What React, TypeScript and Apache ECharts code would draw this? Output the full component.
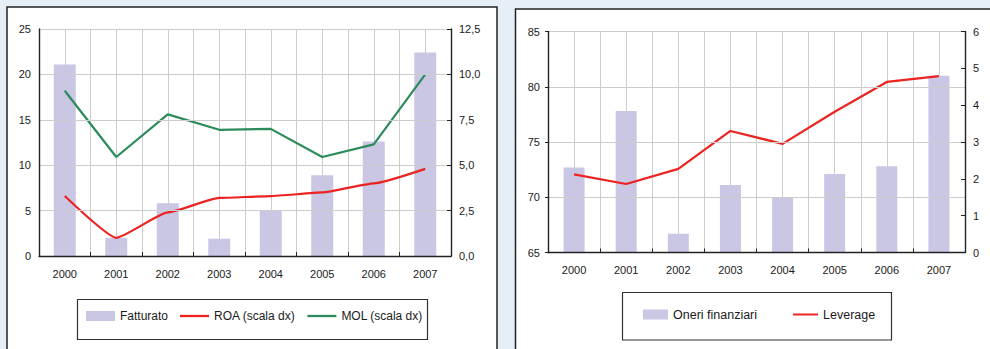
import React, { useEffect, useRef } from "react";
import * as echarts from "echarts";

// Categories
const years = ["2000", "2001", "2002", "2003", "2004", "2005", "2006", "2007"];
// Half-width slots used only to place gridlines at centres and boundaries
const halfSlots = years.flatMap((y) => [y + "-a", y + "-b"]);

// Left panel
const fatturato = [21.1, 2.0, 5.8, 1.9, 5.0, 8.9, 12.6, 22.4];
const roa = [3.3, 1.0, 2.4, 3.2, 3.3, 3.5, 4.0, 4.8];
const mol = [9.1, 5.45, 7.8, 6.95, 7.0, 5.45, 6.15, 10.0];

// Right panel
const oneri = [72.7, 77.8, 66.7, 71.1, 70.0, 72.1, 72.8, 81.0];
const leverage = [2.12, 1.86, 2.27, 3.3, 2.95, 3.82, 4.63, 4.79];

const FONT = "'Liberation Sans', Arial, sans-serif";
const TXT = "#1a1a1a";
const AXIS = "#222";
const GRID = "#cdcdcd";
const BAR = "#c9c7e3";
const RED = "#ec2320";
const GREEN = "#2b8b5b";
const PAGE = "#e7eff6";

// thin horizontal stroke used as the legend key for line series
const LINE_ICON = "path://M0 0H29V2.3H0Z";

const comma1 = (v: number) => v.toFixed(1).replace(".", ",");

export default function App() {
  const ref = useRef<HTMLDivElement>(null);

  useEffect(() => {
    if (!ref.current) return;
    const chart = echarts.init(ref.current, undefined, { renderer: "svg" });

    const catAxis = (gridIndex: number) => ({
      type: "category",
      gridIndex,
      data: years,
      boundaryGap: true,
      axisLine: { show: true, lineStyle: { color: AXIS, width: 1.4 } },
      axisTick: { show: true, inside: true, length: 4, lineStyle: { color: AXIS } },
      axisLabel: { color: TXT, fontFamily: FONT, fontSize: 11, margin: 12 },
      splitLine: { show: false },
      z: 5,
    });

    const halfAxis = (gridIndex: number) => ({
      type: "category",
      gridIndex,
      data: halfSlots,
      boundaryGap: true,
      axisLine: { show: false },
      axisTick: { show: false },
      axisLabel: { show: false },
      splitLine: { show: true, interval: 0, lineStyle: { color: GRID, width: 1 } },
    });

    const leftVal = (gridIndex: number, min: number, max: number, interval: number, tick: boolean) => ({
      type: "value",
      gridIndex,
      position: "left",
      min,
      max,
      interval,
      startValue: min,
      axisLine: { show: true, lineStyle: { color: AXIS, width: 1.4 } },
      axisTick: { show: tick, length: 3, lineStyle: { color: AXIS } },
      axisLabel: { color: TXT, fontFamily: FONT, fontSize: 11, margin: 8 },
      splitLine: { show: true, lineStyle: { color: GRID, width: 1 } },
      z: 5,
    });

    const rightVal = (gridIndex: number, min: number, max: number, interval: number, fmt?: (v: number) => string) => ({
      type: "value",
      gridIndex,
      position: "right",
      min,
      max,
      interval,
      axisLine: { show: true, lineStyle: { color: AXIS, width: 1.4 } },
      axisTick: { show: true, inside: true, length: 4, lineStyle: { color: AXIS } },
      axisLabel: { color: TXT, fontFamily: FONT, fontSize: 11, margin: 8, formatter: fmt },
      splitLine: { show: false },
      z: 5,
    });

    chart.setOption({
      animation: false,
      backgroundColor: PAGE,
      textStyle: { fontFamily: FONT },
      graphic: [
        {
          type: "rect",
          shape: { x: 7, y: 7, width: 490, height: 360 },
          style: { fill: "#fff", stroke: "#222", lineWidth: 1.5 },
          z: -10,
        },
        {
          type: "rect",
          shape: { x: 515.5, y: 9, width: 490, height: 360 },
          style: { fill: "#fff", stroke: "#222", lineWidth: 1.5 },
          z: -10,
        },
        {
          type: "rect",
          shape: { x: 77.5, y: 299.5, width: 350, height: 40 },
          style: { fill: "none", stroke: "#333", lineWidth: 1.2 },
        },
        {
          type: "rect",
          shape: { x: 622.5, y: 292.5, width: 269, height: 47.5 },
          style: { fill: "none", stroke: "#333", lineWidth: 1.2 },
        },
      ],
      grid: [
        { left: 39, top: 29, width: 412, height: 227 },
        { left: 548, top: 31.5, width: 417, height: 221 },
      ],
      xAxis: [catAxis(0), halfAxis(0), catAxis(1), halfAxis(1)],
      yAxis: [
        leftVal(0, 0, 25, 5, false),
        rightVal(0, 0, 12.5, 2.5, comma1),
        leftVal(1, 65, 85, 5, true),
        rightVal(1, 0, 6, 1),
      ],
      legend: [
        {
          data: [
            { name: "Fatturato", icon: "rect" },
            { name: "ROA (scala dx)", icon: LINE_ICON },
            { name: "MOL (scala dx)", icon: LINE_ICON },
          ],
          left: 86,
          top: 310,
          padding: 0,
          itemWidth: 29,
          itemHeight: 10,
          itemGap: 12,
          textStyle: { color: TXT, fontFamily: FONT, fontSize: 12 },
        },
        {
          data: [
            { name: "Oneri finanziari", icon: "rect" },
            { name: "Leverage", icon: LINE_ICON },
          ],
          left: 643,
          top: 308,
          padding: 0,
          itemWidth: 25,
          itemHeight: 10,
          itemGap: 36,
          textStyle: { color: TXT, fontFamily: FONT, fontSize: 12.5 },
        },
      ],
      series: [
        {
          name: "Fatturato",
          type: "bar",
          xAxisIndex: 0,
          yAxisIndex: 0,
          data: fatturato,
          barWidth: 22,
          itemStyle: { color: BAR },
        },
        {
          name: "ROA (scala dx)",
          type: "line",
          xAxisIndex: 0,
          yAxisIndex: 1,
          data: roa,
          symbol: "none",
          smooth: 0.15,
          smoothMonotone: "x",
          lineStyle: { color: RED, width: 2.2 },
          itemStyle: { color: RED },
        },
        {
          name: "MOL (scala dx)",
          type: "line",
          xAxisIndex: 0,
          yAxisIndex: 1,
          data: mol,
          symbol: "none",
          lineStyle: { color: GREEN, width: 2.2 },
          itemStyle: { color: GREEN },
        },
        {
          name: "Oneri finanziari",
          type: "bar",
          xAxisIndex: 2,
          yAxisIndex: 2,
          data: oneri,
          barWidth: 21,
          clip: true,
          itemStyle: { color: BAR },
        },
        {
          name: "Leverage",
          type: "line",
          xAxisIndex: 2,
          yAxisIndex: 3,
          data: leverage,
          symbol: "none",
          lineStyle: { color: RED, width: 2.2 },
          itemStyle: { color: RED },
        },
      ],
    });

    return () => chart.dispose();
  }, []);

  return (
    <div
      ref={ref}
      style={{ position: "fixed", left: 0, top: 0, width: 990, height: 349 }}
    />
  );
}
